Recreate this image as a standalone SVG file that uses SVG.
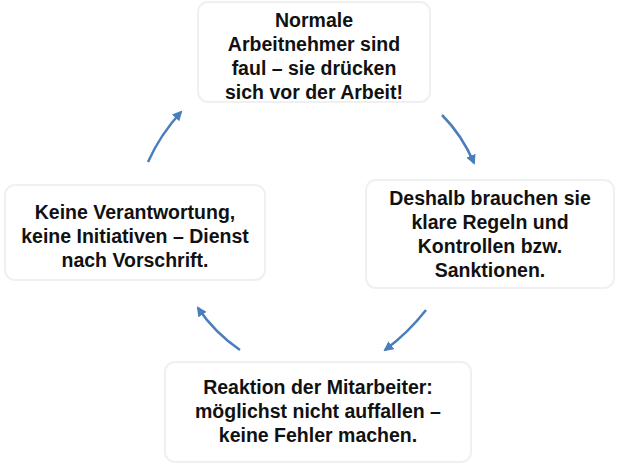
<svg xmlns="http://www.w3.org/2000/svg" width="619" height="473" viewBox="0 0 619 473">
<style>
.box{fill:#fff;stroke:#f0f0f0;stroke-width:2}
.t{font-family:"Liberation Sans",Arial,sans-serif;font-weight:bold;font-size:19.5px;fill:#111;text-anchor:middle}
.c{fill:none;stroke:#4a7ebb;stroke-width:2.5;marker-end:url(#a)}
</style>
<defs><marker id="a" viewBox="0 0 10 10" refX="8" refY="5" markerWidth="4" markerHeight="4" orient="auto"><path d="M0,0L10,5L0,10z" fill="#4a7ebb"/></marker></defs>
<rect width="619" height="473" fill="#fff"/>
<g id="n1"><rect class="box" x="198" y="2" width="232" height="100" rx="10"/>
<text class="t" x="314" y="27">Normale</text><text class="t" x="314" y="51">Arbeitnehmer sind</text><text class="t" x="314" y="75">faul – sie drücken</text><text class="t" x="314" y="99">sich vor der Arbeit!</text></g>
<g id="n2"><rect class="box" x="366" y="180" width="248" height="108" rx="10"/>
<text class="t" x="490" y="205">Deshalb brauchen sie</text><text class="t" x="490" y="229">klare Regeln und</text><text class="t" x="490" y="253">Kontrollen bzw.</text><text class="t" x="490" y="277">Sanktionen.</text></g>
<g id="n3"><rect class="box" x="165" y="362" width="306" height="100" rx="10"/>
<text class="t" x="318" y="394">Reaktion der Mitarbeiter:</text><text class="t" x="318" y="418">möglichst nicht auffallen –</text><text class="t" x="318" y="442">keine Fehler machen.</text></g>
<g id="n4"><rect class="box" x="5" y="185" width="260" height="95" rx="10"/>
<text class="t" x="135" y="219">Keine Verantwortung,</text><text class="t" x="135" y="243">keine Initiativen – Dienst</text><text class="t" x="135" y="267">nach Vorschrift.</text></g>
<g id="connectors">
<path class="c" d="M442,115 Q462,135 474,163"/>
<path class="c" d="M426,310 Q408,333 385,350"/>
<path class="c" d="M240,350 Q215,333 198,308"/>
<path class="c" d="M148,162 Q160,135 181,112"/>
</g>
</svg>
